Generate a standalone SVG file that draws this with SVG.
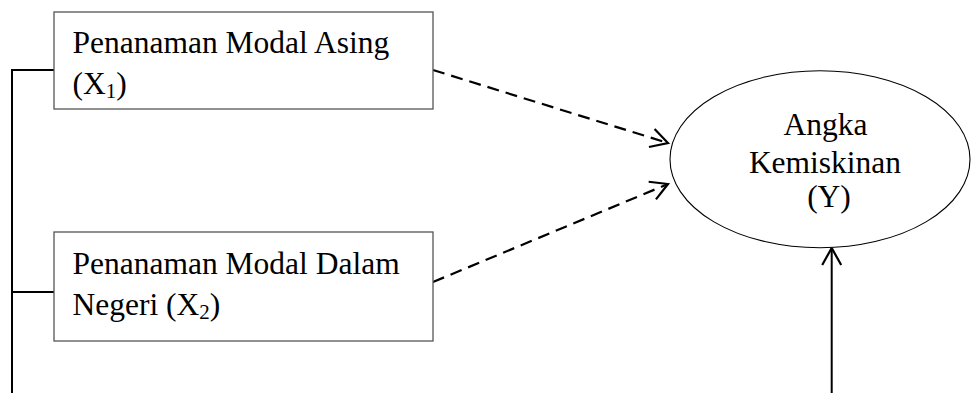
<svg xmlns="http://www.w3.org/2000/svg" width="971" height="393" viewBox="0 0 971 393">
  <style>
    .box { fill: #ffffff; stroke: #555555; stroke-width: 1.3; }
    .ell { fill: #ffffff; stroke: #000000; stroke-width: 1.1; }
    .lbl { font-family: "Liberation Serif", "Times New Roman", serif; font-size: 31.5px; fill: #000000; }
    .sub { font-size: 21px; }
    .solid { stroke: #000000; stroke-width: 2; fill: none; }
    .dash { stroke: #000000; stroke-width: 2.2; fill: none; stroke-dasharray: 12 7; }
  </style>
  <defs>
    <marker id="chev" markerUnits="userSpaceOnUse" markerWidth="24" markerHeight="24" viewBox="-20 -12 24 24" refX="0" refY="0" orient="auto">
      <path d="M -17 -9.5 L 0 0 L -17 9.5" fill="none" stroke="#000000" stroke-width="2.2" stroke-dasharray="none"/>
    </marker>
  </defs>
  <rect width="971" height="393" fill="#ffffff"/>

  <g id="connectors">
    <path class="solid" d="M 12 393 L 12 70 L 54 70"/>
    <path class="solid" d="M 12 292 L 54 292"/>
    <path class="dash" d="M 433 70 L 668 143" marker-end="url(#chev)"/>
    <path class="dash" d="M 433 282 L 668 184" marker-end="url(#chev)"/>
    <path class="solid" d="M 831.7 393 L 831.7 248" marker-end="url(#chev)"/>
  </g>

  <g id="node-x1">
    <rect class="box" x="54" y="12" width="379" height="97"/>
    <text class="lbl" x="72.5" y="53">Penanaman Modal Asing</text>
    <text class="lbl" x="72.5" y="94">(X<tspan class="sub" dy="4">1</tspan><tspan dy="-4">)</tspan></text>
  </g>

  <g id="node-x2">
    <rect class="box" x="54" y="232" width="379" height="109"/>
    <text class="lbl" x="72.5" y="273.5">Penanaman Modal Dalam</text>
    <text class="lbl" x="72.5" y="314.5">Negeri (X<tspan class="sub" dy="4">2</tspan><tspan dy="-4">)</tspan></text>
  </g>

  <g id="node-y">
    <ellipse class="ell" cx="820" cy="159.3" rx="150" ry="88.5"/>
    <text class="lbl" x="825.5" y="135" text-anchor="middle">Angka</text>
    <text class="lbl" x="825" y="172.5" text-anchor="middle">Kemiskinan</text>
    <text class="lbl" x="829" y="207" text-anchor="middle">(Y)</text>
  </g>
</svg>
